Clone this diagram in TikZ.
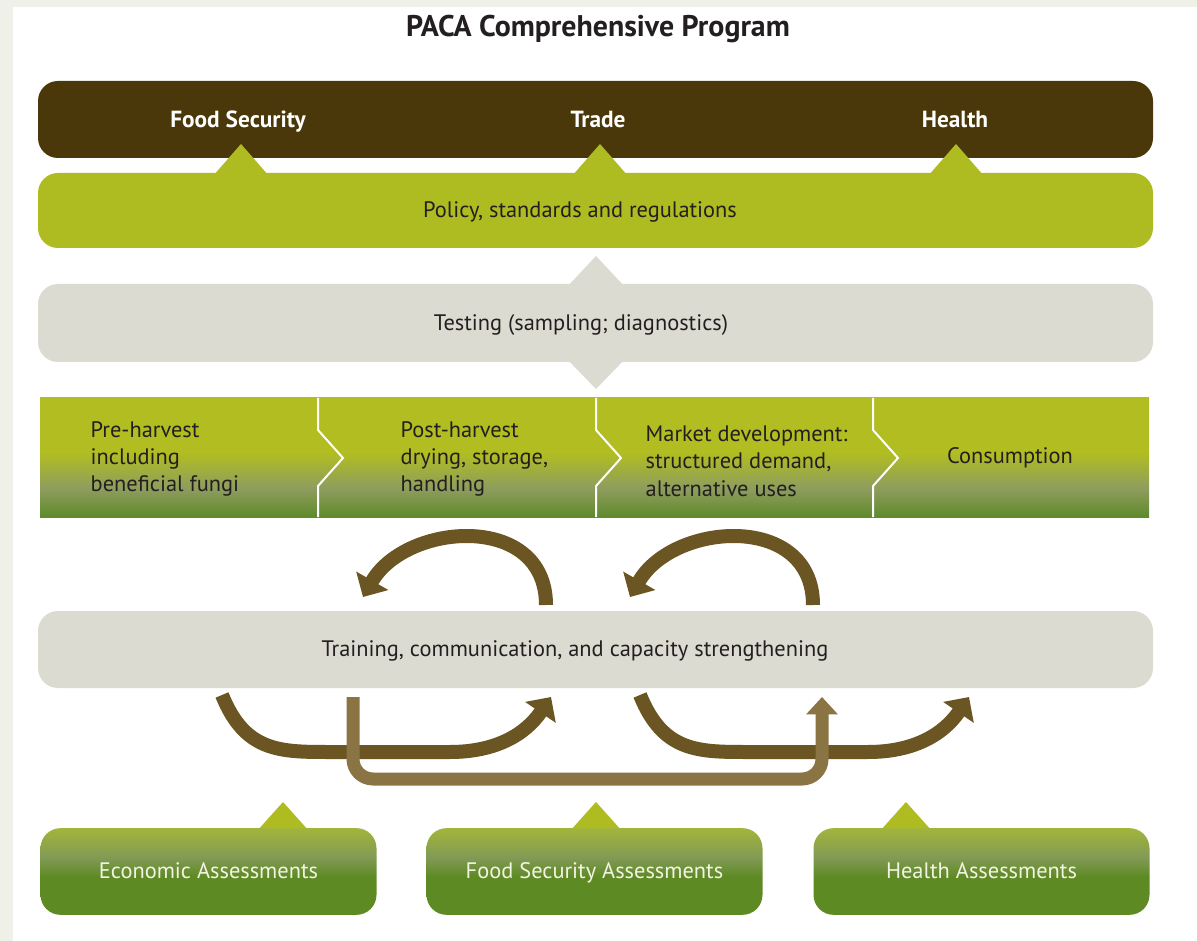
\documentclass[tikz,border=0pt]{standalone}
\usepackage{fontspec}
\setmainfont{PT Sans}
\usepackage{tikz}
\usetikzlibrary{arrows.meta, positioning}

\definecolor{pagestrip}{HTML}{EFF1E8}
\definecolor{darkbrown}{HTML}{4B380A}
\definecolor{limebar}{HTML}{AFBC21}
\definecolor{sandbar}{HTML}{DCDBD1}
\definecolor{stagetop}{HTML}{B1BD21}
\definecolor{stagemid}{HTML}{8E9D5E}
\definecolor{stagebot}{HTML}{5F8A2B}
\definecolor{boxtop}{HTML}{A2B53A}
\definecolor{boxmid}{HTML}{819A55}
\definecolor{boxbot}{HTML}{5E8A24}
\definecolor{loopbrown}{HTML}{6A5523}
\definecolor{linkbrown}{HTML}{8B7444}
\definecolor{inktext}{HTML}{231F20}
\definecolor{boxtext}{HTML}{F3F3E2}

\pgfdeclareverticalshading{stagefade}{100bp}{color(0bp)=(stagebot); color(25bp)=(stagebot); color(37bp)=(stagemid); color(52bp)=(stagetop); color(100bp)=(stagetop)}
\pgfdeclareverticalshading{boxfade}{100bp}{color(0bp)=(boxbot); color(47bp)=(boxbot); color(58bp)=(boxmid); color(75bp)=(boxtop); color(100bp)=(boxtop)}

\tikzset{
  barlabel/.style={text=inktext, font=\fontsize{16.8}{20}\selectfont},
  headlabel/.style={text=white, text height=1.5ex, text depth=.25ex, font=\bfseries\fontsize{17.5}{20}\selectfont},
  stagelabel/.style={text=inktext, align=left, anchor=west, font=\fontsize{16.8}{20.5}\selectfont},
  assessbox/.style={shade, shading=boxfade, rounded corners=15pt, minimum width=252pt, minimum height=65pt, text=boxtext, text height=2.2ex, text depth=.25ex, font=\fontsize{16.8}{20}\selectfont},
  cyclearrow/.style={draw=loopbrown, line width=10.5pt, -{Triangle[width=27pt,length=14pt]}},
  linkarrow/.style={draw=linkbrown, line width=9.75pt, rounded corners=15pt, -{Triangle[width=23pt,length=13pt]}}
}

\begin{document}
\begin{tikzpicture}[x=0.75pt, y=-0.75pt]
            \useasboundingbox (0,0) rectangle (1197,941);
            \fill[white] (0,0) rectangle (1197,941);
            \fill[pagestrip] (0,0) rectangle (13,941);
            \fill[pagestrip] (0,0) rectangle (1197,7);
            % title
            \node[text=inktext, font=\bfseries\fontsize{22.4}{26}\selectfont] (title) at (598,29) {PACA Comprehensive Program};
            % pillars
            \fill[darkbrown, rounded corners=15pt] (38,81) rectangle (1153,158);
            \node[headlabel] (food) at (238,123) {Food Security};
            \node[headlabel] (trade) at (598,123) {Trade};
            \node[headlabel] (health) at (955,123) {Health};
            \foreach \x in {241,600,956}
                \fill[limebar] (\x-28,176) -- (\x,144) -- (\x+28,176) -- cycle;
            % policy
            \fill[limebar, rounded corners=15pt] (38,173) rectangle (1153,248);
            \node[barlabel] (policy) at (580,212) {Policy, standards and regulations};
            % testing
            \fill[sandbar] (567,287) -- (596,256) -- (625,287) -- cycle;
            \fill[sandbar, rounded corners=15pt] (38,284) rectangle (1153,362);
            \fill[sandbar] (567,359) -- (596,389) -- (625,359) -- cycle;
            \node[barlabel] (testing) at (581,325) {Testing (sampling; diagnostics)};
            % value chain
            \shade[shading=stagefade] (40,398) rectangle (1149,517);
            \foreach \x in {318,596,873}
                \draw[white, line width=1.5pt] (\x,398) -- (\x,430) -- (\x+25,458) -- (\x,486) -- (\x,517);
            \node[stagelabel] (preharvest) at (86,459) {Pre-harvest\\including\\beneficial fungi};
            \node[stagelabel] (postharvest) at (396,459) {Post-harvest\\drying, storage,\\handling};
            \node[stagelabel] (market) at (641,461) {Market development:\\structured demand,\\alternative uses};
            \node[barlabel] (consumption) at (1010,458) {Consumption};
            % training
            \fill[sandbar, rounded corners=15pt] (38,611) rectangle (1153,688);
            \node[barlabel] (training) at (575,651) {Training, communication, and capacity strengthening};
            % loops
            \coordinate (upA0) at (546,605);
            \coordinate (upA1) at (363,597);
            \coordinate (upB0) at (813,605);
            \coordinate (upB1) at (630,597);
            \draw[cyclearrow] (upA0) .. controls (546,512) and (406,522) .. (upA1);
            \draw[cyclearrow] (upB0) .. controls (813,512) and (673,522) .. (upB1);
            \coordinate (lowA0) at (222,695);
            \coordinate (lowA1) at (551,697);
            \coordinate (lowB0) at (640,695);
            \coordinate (lowB1) at (969,697);
            \draw[cyclearrow] (lowA0) .. controls (245,752) and (280,752) .. (330,752) -- (450,752) .. controls (495,752) and (525,735) .. (lowA1);
            \draw[cyclearrow] (lowB0) .. controls (663,752) and (698,752) .. (748,752) -- (868,752) .. controls (913,752) and (943,735) .. (lowB1);
            \coordinate (linkA) at (353,697);
            \coordinate (linkB) at (822,697);
            \draw[linkarrow] (linkA) -- (353,779) -- (822,779) -- (linkB);
            % assessments
            \foreach \x in {283,596,906}
                \fill[limebar] (\x-26,831) -- (\x,802) -- (\x+26,831) -- cycle;
            \node[assessbox] (econ) at (208.5,871.5) {Economic Assessments};
            \node[assessbox] (foodsec) at (594.5,871.5) {Food Security Assessments};
            \node[assessbox] (healthas) at (981.5,871.5) {Health Assessments};
        \end{tikzpicture}
\end{document}
